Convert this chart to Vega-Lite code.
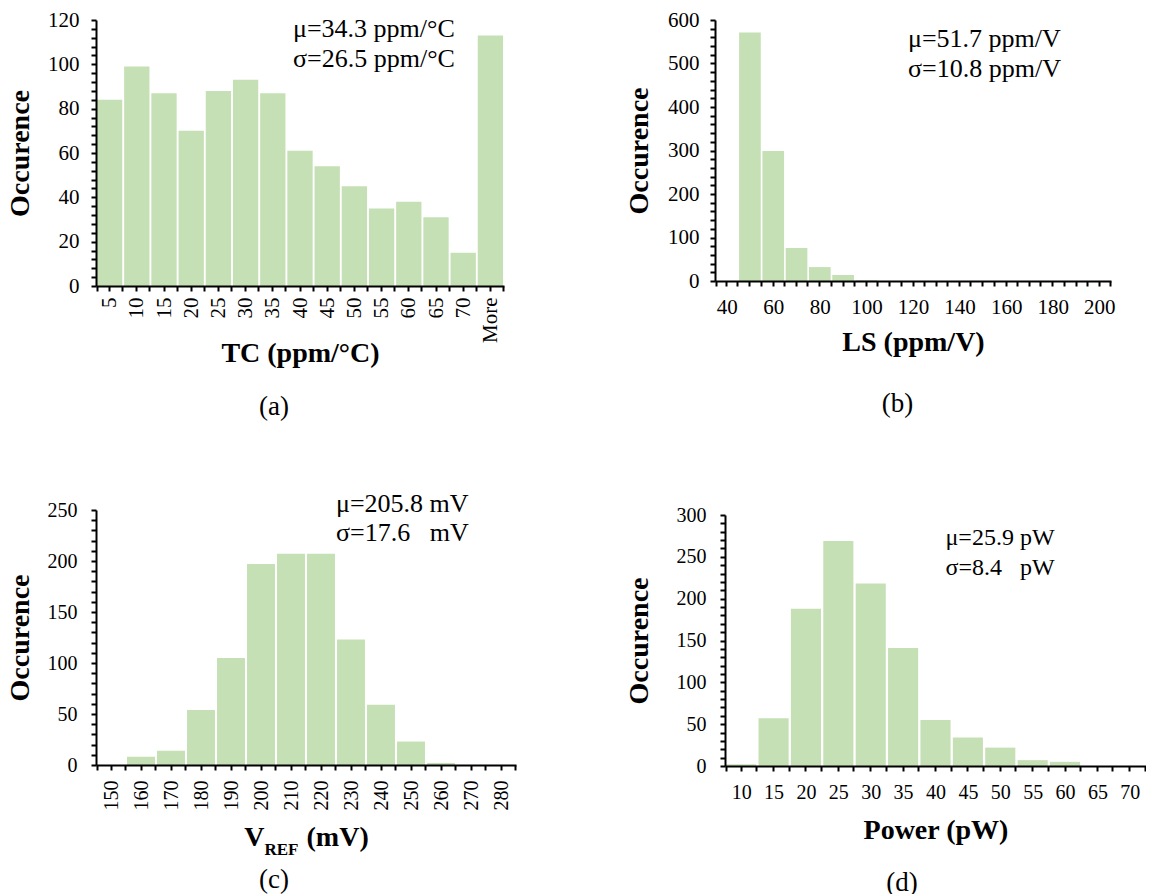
{
  "$schema": "https://vega.github.io/schema/vega-lite/v6.json",
  "padding": {"left": 6, "top": 9, "right": 0, "bottom": 0},
  "config": {
    "font": "Liberation Serif",
    "view": {"stroke": null},
    "axis": {"domainColor": "black", "domainWidth": 2, "tickColor": "black", "tickWidth": 2, "labelColor": "black", "titleColor": "black", "labelFont": "Liberation Serif", "titleFont": "Liberation Serif", "labelFontSize": 21, "titleFontSize": 28, "titleFontWeight": "bold", "grid": false, "labelOverlap": false},
    "title": {"font": "Liberation Serif", "fontWeight": "normal", "fontSize": 27, "color": "black"},
    "text": {"font": "Liberation Serif", "color": "black"}
  },
  "datasets": {
    "tc": [
      {"bin": "5", "count": 84}, {"bin": "10", "count": 99}, {"bin": "15", "count": 87}, {"bin": "20", "count": 70},
      {"bin": "25", "count": 88}, {"bin": "30", "count": 93}, {"bin": "35", "count": 87}, {"bin": "40", "count": 61},
      {"bin": "45", "count": 54}, {"bin": "50", "count": 45}, {"bin": "55", "count": 35}, {"bin": "60", "count": 38},
      {"bin": "65", "count": 31}, {"bin": "70", "count": 15}, {"bin": "More", "count": 113}
    ],
    "ls": [
      {"bin": "40", "count": 0}, {"bin": "50", "count": 571}, {"bin": "60", "count": 299}, {"bin": "70", "count": 76},
      {"bin": "80", "count": 32}, {"bin": "90", "count": 14}, {"bin": "100", "count": 2}, {"bin": "110", "count": 0},
      {"bin": "120", "count": 0}, {"bin": "130", "count": 0}, {"bin": "140", "count": 0}, {"bin": "150", "count": 0},
      {"bin": "160", "count": 0}, {"bin": "170", "count": 0}, {"bin": "180", "count": 0}, {"bin": "190", "count": 0},
      {"bin": "200", "count": 0}
    ],
    "vref": [
      {"bin": "150", "count": 0}, {"bin": "160", "count": 8}, {"bin": "170", "count": 14}, {"bin": "180", "count": 54},
      {"bin": "190", "count": 105}, {"bin": "200", "count": 197}, {"bin": "210", "count": 207}, {"bin": "220", "count": 207},
      {"bin": "230", "count": 123}, {"bin": "240", "count": 59}, {"bin": "250", "count": 23}, {"bin": "260", "count": 2},
      {"bin": "270", "count": 0}, {"bin": "280", "count": 0}
    ],
    "pw": [
      {"bin": "10", "count": 2}, {"bin": "15", "count": 57}, {"bin": "20", "count": 188}, {"bin": "25", "count": 269},
      {"bin": "30", "count": 218}, {"bin": "35", "count": 141}, {"bin": "40", "count": 55}, {"bin": "45", "count": 34},
      {"bin": "50", "count": 22}, {"bin": "55", "count": 7}, {"bin": "60", "count": 5}, {"bin": "65", "count": 0},
      {"bin": "70", "count": 0}
    ]
  },
  "spacing": 109,
  "hconcat": [
    {
      "spacing": 69,
      "vconcat": [
        {
          "width": 408, "height": 266,
          "data": {"name": "tc"},
          "title": {"text": "(a)", "orient": "bottom", "frame": "group", "dx": -26, "offset": 27},
          "layer": [
            {
              "mark": {"type": "bar", "color": "#c5e0b4"},
              "encoding": {
                "x": {"field": "bin", "type": "ordinal", "sort": null,
                  "scale": {"domain": ["5","10","15","20","25","30","35","40","45","50","55","60","65","70","More"], "paddingInner": 0.07, "paddingOuter": 0.035},
                  "axis": {"title": "TC (ppm/°C)", "labelAngle": -90, "labelOverlap": false, "tickBand": "extent", "tickSize": 5, "labelPadding": 6, "titlePadding": -3, "zindex": 1}},
                "y": {"field": "count", "type": "quantitative", "scale": {"domain": [0, 120], "nice": false},
                  "axis": {"title": "Occurence", "values": [0,4,8,12,16,20,24,28,32,36,40,44,48,52,56,60,64,68,72,76,80,84,88,92,96,100,104,108,112,116,120],
                    "tickCount": 100, "labelExpr": "datum.value % 20 === 0 ? datum.label : ''",
                    "labelOverlap": false, "ticks": true, "tickSize": 5, "labelPadding": 12, "titlePadding": 13.5, "zindex": 1}}
              }
            },
            {
              "mark": {"type": "point", "opacity": 0},
              "encoding": {
                "x": {"field": "bin", "type": "ordinal", "sort": null, "axis": {"orient": "bottom", "labels": false, "domain": false, "tickSize": 5, "bandPosition": 0.5, "title": null, "zindex": 1}}
              }
            },
            {
              "data": {"values": [{"bin": "40", "count": 112.5}]},
              "mark": {"type": "text", "align": "left", "baseline": "alphabetic", "fontSize": 26, "lineHeight": 30, "dx": -7},
              "encoding": {
                "x": {"field": "bin", "type": "ordinal", "axis": null},
                "y": {"field": "count", "type": "quantitative"},
                "text": {"value": ["μ=34.3 ppm/°C", "σ=26.5 ppm/°C"]}
              }
            }
          ],
          "resolve": {"axis": {"x": "independent"}}
        },
        {
          "width": 420, "height": 255,
          "data": {"name": "vref"},
          "title": {"text": "(c)", "orient": "bottom", "frame": "group", "dx": -32, "offset": 10.4},
          "layer": [
            {
              "mark": {"type": "bar", "color": "#c5e0b4"},
              "encoding": {
                "x": {"field": "bin", "type": "ordinal", "sort": null,
                  "scale": {"domain": ["150","160","170","180","190","200","210","220","230","240","250","260","270","280"], "paddingInner": 0.07, "paddingOuter": 0.035},
                  "axis": {"title": "V\u00a0\u00a0\u00a0\u00a0\u00a0\u00a0(mV)", "labelAngle": -90, "labelOverlap": false, "labelFontSize": 20, "tickBand": "extent", "tickSize": 5, "labelPadding": 10, "titlePadding": 13, "zindex": 1}},
                "y": {"field": "count", "type": "quantitative", "scale": {"domain": [0, 250], "nice": false},
                  "axis": {"title": "Occurence", "values": [0,10,20,30,40,50,60,70,80,90,100,110,120,130,140,150,160,170,180,190,200,210,220,230,240,250],
                    "tickCount": 100, "labelExpr": "datum.value % 50 === 0 ? datum.label : ''", "labelOverlap": false, "ticks": true, "labelFontSize": 20, "tickSize": 5, "labelPadding": 14, "titlePadding": 13, "zindex": 1}}
              }
            },
            {
              "mark": {"type": "point", "opacity": 0},
              "encoding": {
                "x": {"field": "bin", "type": "ordinal", "sort": null, "axis": {"orient": "bottom", "labels": false, "domain": false, "tickSize": 5, "bandPosition": 0.5, "title": "REF", "titleFontSize": 17, "titleX": 185, "titleY": 89, "titleAlign": "center", "titleBaseline": "alphabetic", "titleAngle": 0, "zindex": 1}}
              }
            },
            {
              "data": {"values": [{"bin": "230", "count": 248.3}]},
              "mark": {"type": "text", "align": "left", "baseline": "alphabetic", "fontSize": 26, "lineHeight": 29, "dx": -15},
              "encoding": {
                "x": {"field": "bin", "type": "ordinal", "axis": null},
                "y": {"field": "count", "type": "quantitative"},
                "text": {"value": ["μ=205.8 mV", "σ=17.6\u00a0\u00a0\u00a0mV"]}
              }
            }
          ],
          "resolve": {"axis": {"x": "independent"}}
        }
      ]
    },
    {
      "spacing": 88,
      "vconcat": [
        {
          "width": 386, "height": 261,
          "data": {"name": "ls"},
          "title": {"text": "(b)", "orient": "bottom", "frame": "group", "dx": -20.5, "offset": 34},
          "layer": [
            {
              "mark": {"type": "bar", "color": "#c5e0b4"},
              "encoding": {
                "x": {"field": "bin", "type": "ordinal", "sort": null,
                  "scale": {"domain": ["40","50","60","70","80","90","100","110","120","130","140","150","160","170","180","190","200"], "range": [-10, 386], "paddingInner": 0.07, "paddingOuter": 0.035},
                  "axis": {"title": "LS (ppm/V)", "labelAngle": 0, "labelOverlap": false, "labelExpr": "(+datum.value - 40) % 20 === 0 ? datum.label : ''", "tickBand": "extent", "tickSize": 5, "labelPadding": 10, "titlePadding": 11.5, "zindex": 1}},
                "y": {"field": "count", "type": "quantitative", "scale": {"domain": [0, 600], "nice": false},
                  "axis": {"title": "Occurence", "offset": 10, "values": [0,20,40,60,80,100,120,140,160,180,200,220,240,260,280,300,320,340,360,380,400,420,440,460,480,500,520,540,560,580,600],
                    "tickCount": 100, "labelExpr": "datum.value % 100 === 0 ? datum.label : ''", "labelOverlap": false, "ticks": true, "tickSize": 5, "labelPadding": 11, "titlePadding": 14.5, "zindex": 1}}
              }
            },
            {
              "mark": {"type": "point", "opacity": 0},
              "encoding": {
                "x": {"field": "bin", "type": "ordinal", "sort": null, "axis": {"orient": "bottom", "labels": false, "domain": false, "tickSize": 5, "bandPosition": 0.5, "title": null, "zindex": 1}}
              }
            },
            {
              "data": {"values": [{"bin": "120", "count": 538}]},
              "mark": {"type": "text", "align": "left", "baseline": "alphabetic", "fontSize": 26, "lineHeight": 30, "dx": -5},
              "encoding": {
                "x": {"field": "bin", "type": "ordinal", "axis": null},
                "y": {"field": "count", "type": "quantitative"},
                "text": {"value": ["μ=51.7 ppm/V", "σ=10.8 ppm/V"]}
              }
            }
          ],
          "resolve": {"axis": {"x": "independent"}}
        },
        {
          "width": 421, "height": 251,
          "data": {"name": "pw"},
          "title": {"text": "(d)", "orient": "bottom", "frame": "group", "dx": -33.5, "offset": 25.7},
          "layer": [
            {
              "mark": {"type": "bar", "color": "#c5e0b4"},
              "encoding": {
                "x": {"field": "bin", "type": "ordinal", "sort": null,
                  "scale": {"domain": ["10","15","20","25","30","35","40","45","50","55","60","65","70"], "paddingInner": 0.07, "paddingOuter": 0.035},
                  "axis": {"title": "Power (pW)", "labelAngle": 0, "labelOverlap": false, "labelFontSize": 20, "tickBand": "extent", "tickSize": 5, "labelPadding": 11, "titlePadding": 14, "zindex": 1}},
                "y": {"field": "count", "type": "quantitative", "scale": {"domain": [0, 300], "nice": false},
                  "axis": {"title": "Occurence", "values": [0,10,20,30,40,50,60,70,80,90,100,110,120,130,140,150,160,170,180,190,200,210,220,230,240,250,260,270,280,290,300],
                    "tickCount": 100, "labelExpr": "datum.value % 50 === 0 ? datum.label : ''", "labelOverlap": false, "ticks": true, "labelFontSize": 20, "tickSize": 5, "labelPadding": 14, "titlePadding": 23, "zindex": 1}}
              }
            },
            {
              "mark": {"type": "point", "opacity": 0},
              "encoding": {
                "x": {"field": "bin", "type": "ordinal", "sort": null, "axis": {"orient": "bottom", "labels": false, "domain": false, "tickSize": 5, "bandPosition": 0.5, "title": null, "zindex": 1}}
              }
            },
            {
              "data": {"values": [{"bin": "40", "count": 264}]},
              "mark": {"type": "text", "align": "left", "baseline": "alphabetic", "fontSize": 24, "lineHeight": 30, "dx": 10},
              "encoding": {
                "x": {"field": "bin", "type": "ordinal", "axis": null},
                "y": {"field": "count", "type": "quantitative"},
                "text": {"value": ["μ=25.9 pW", "σ=8.4\u00a0\u00a0\u00a0pW"]}
              }
            }
          ],
          "resolve": {"axis": {"x": "independent"}}
        }
      ]
    }
  ]
}
